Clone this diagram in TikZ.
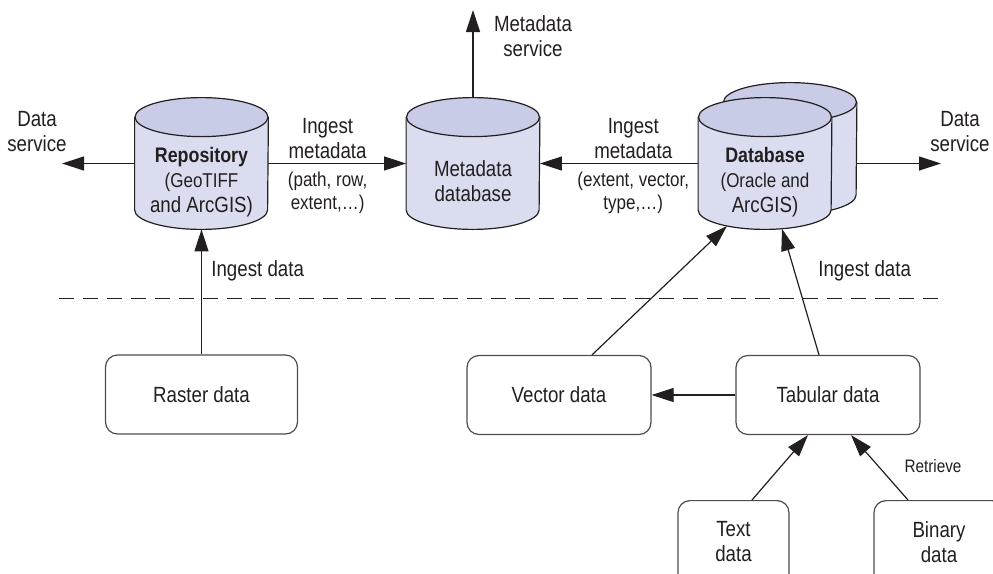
\documentclass[tikz,border=0pt]{standalone}
\usepackage{fontspec}
\setmainfont{Liberation Sans}[FakeStretch=0.85]
\usetikzlibrary{positioning,arrows.meta,calc}
\definecolor{DBtop}{HTML}{C8CCE6}
\definecolor{DBbody}{HTML}{DADDF0}
\definecolor{Ink}{HTML}{231F20}
\newcommand\lblsmall{\fontsize{10}{11.25}\selectfont}

\begin{document}
\begin{tikzpicture}[
  x=0.5pt,y=-0.5pt,
  every node/.style={font=\fontsize{11}{12.5}\selectfont,align=center,inner sep=1pt,text=Ink},
  store/.style={minimum width=66.5pt,minimum height=65.5pt,inner sep=0pt},
  storeline/.style={draw=Ink,line width=0.6pt},
  datanode/.style={draw=Ink!80,rounded corners=6pt,line width=0.6pt,minimum height=39.5pt},
  flow/.style={draw=Ink,line width=0.6pt,-{Triangle[length=11pt,width=7pt]}}
]
\clip (0,0) rectangle (993,574);

% stores (boxes only, cylinders drawn below)
\node[store] (repo) at (201.5,163.5) {};
\node[store] (meta) at (473,163.5) {};
\node[store] (dbback) at (790,148.5) {};
\node[store] (db) at (765,163.5) {};

\foreach \s in {repo,meta,dbback,db} {
  \filldraw[storeline,fill=DBbody] ([yshift=-9.75pt]\s.north west) -- ([yshift=9.75pt]\s.south west)
    arc[start angle=180,end angle=360,x radius=33.25pt,y radius=9.75pt] -- ([yshift=-9.75pt]\s.north east);
  \filldraw[storeline,fill=DBtop] ([yshift=-9.75pt]\s.north) ellipse[x radius=33.25pt,y radius=9.75pt];
}

\node (repotxt) at ([yshift=-9.5pt]repo.center) {{\fontsize{10.5}{12}\selectfont\bfseries Repository}\\\lblsmall (GeoTIFF\\and ArcGIS)};
\node (metatxt) at ([yshift=-8.75pt]meta.center) {Metadata\\database};
\node (dbtxt) at ([yshift=-9.5pt]db.center) {{\fontsize{10.5}{12}\selectfont\bfseries Database}\\\lblsmall (Oracle and\\ArcGIS)};

% sources
\node[datanode,minimum width=96pt] (raster) at (201.5,394.5) {Raster data};
\node[datanode,minimum width=92pt] (vector) at (559,395) {Vector data};
\node[datanode,minimum width=92pt] (tabular) at (828,395) {Tabular data};
\node[datanode,anchor=north,minimum width=55.5pt,inner ysep=10.5pt,text depth=30pt] (textd) at (733.5,500) {Text\\data};
\node[datanode,anchor=north,minimum width=65pt,inner ysep=10.5pt,text depth=30pt] (binary) at (939,500) {Binary\\data};

% free ends
\coordinate (dsl) at (62,163.5);
\coordinate (dsr) at (941,163.5);
\coordinate (msvc) at (473,10);
\coordinate (sepL) at (59,298);
\coordinate (sepR) at (940,298);

\draw[dash pattern=on 7.25pt off 4.75pt,line width=0.5pt,draw=Ink] (sepL) -- (sepR);

% services
\draw[flow] (repo.west) -- (dsl);
\draw[flow] (db.east -| dbback.east) -- (dsr);
\draw[flow] (meta.north) -- (msvc);
\node (dsllbl) at (37,132) {Data\\service};
\node (dsrlbl) at (960,132) {Data\\service};
\node (msvclbl) at (533,36) {Metadata\\service};

% metadata ingest
\draw[flow] (repo.east) -- node[pos=0.43,above=1pt] {Ingest\\metadata}
  node[pos=0.43,below=3pt,font=\lblsmall] {(path, row,\\extent,…)} (meta.west);
\draw[flow] (db.west) -- node[pos=0.41,above=1pt] {Ingest\\metadata}
  node[pos=0.41,below=3pt,font=\lblsmall] {(extent, vector,\\type,…)} (meta.east);

% data ingest
\draw[flow] (raster.north) -- (raster.north |- repo.south);
\draw[flow] ([xshift=16.5pt]vector.north) -- ([xshift=-19pt,yshift=1.7pt]db.south);
\draw[flow] ([xshift=-4.5pt]tabular.north) -- ([xshift=8.5pt,yshift=0.3pt]db.south);
\draw[flow] (tabular.west) -- (vector.east);
\draw[flow] ([xshift=9.25pt]textd.north) -- ([xshift=-10pt]tabular.south);
\draw[flow] ([xshift=-15.5pt]binary.north) -- ([xshift=11.5pt]tabular.south);
\node[anchor=west] (ingl) at (209,271) {Ingest data};
\node[anchor=west] (ingr) at (816,271) {Ingest data};
\node[font=\fontsize{9}{10}\selectfont] (retr) at (933,466) {Retrieve};
\end{tikzpicture}
\end{document}
